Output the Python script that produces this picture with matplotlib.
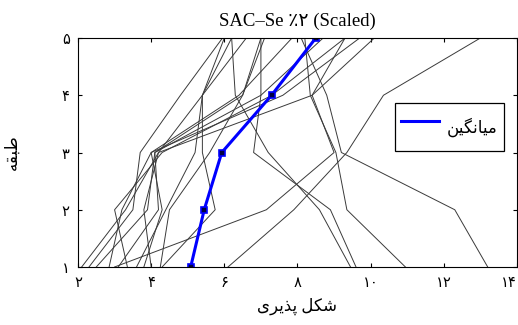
import matplotlib
matplotlib.use("Agg")
from matplotlib import pyplot as plt
from matplotlib.lines import Line2D
import numpy as np

# storey levels and ductility demand of each record
levels = [1, 2, 3, 4, 5]
records = [
    [2.1, 3.3, 4.2, 5.4, 6.6],
    [2.3, 3.5, 3.7, 4.8, 5.95],
    [2.5, 3.9, 4.1, 6.5, 7.0],
    [2.85, 3.2, 4.0, 6.4, 7.85],
    [3.1, 4.2, 4.1, 7.0, 8.7],
    [3.35, 3.0, 4.3, 7.3, 9.3],
    [3.6, 4.4, 5.2, 5.4, 6.2],
    [3.8, 4.3, 4.0, 7.6, 9.7],
    [4.0, 3.8, 4.2, 8.4, 10.1],
    [4.25, 4.5, 5.6, 6.5, 7.1],
    [4.3, 5.75, 5.4, 5.4, 6.0],
    [6.1, 7.9, 9.35, 10.35, 13.0],
    [9.45, 8.6, 7.2, 6.3, 6.2],
    [9.6, 8.9, 6.8, 7.0, 7.0],
    [10.95, 9.35, 9.05, 8.35, 8.2],
    [13.2, 12.3, 9.2, 8.8, 8.1],
    [3.0, 7.15, 9.0, 8.4, 9.3],
]
mean = [5.08, 5.45, 5.93, 7.29, 8.50]

xticks = [2, 4, 6, 8, 10, 12, 14]
xtick_labels = ["\u06f2", "\u06f4", "\u06f6", "\u06f8", "\u06f1\u06f0", "\u06f1\u06f2", "\u06f1\u06f4"]
ytick_labels = ["\u06f1", "\u06f2", "\u06f3", "\u06f4", "\u06f5"]

# Persian text written in presentation forms, visual order (no shaping in mpl)
title = "SAC\u2013Se \u066a\u06f2 (Scaled)"
xlabel = "\ufbfc\ufeae\ufbfe\ufeac\ufb58 \ufede\ufb91\ufeb7"      # شکل پذیری
ylabel = "\ufeea\ufed8\ufe92\ufec3"                              # طبقه
legend_label = "\ufee6\ufbff\ufb95\ufee7\ufe8e\ufbff\ufee3"      # میانگین

fams = ["Liberation Serif", "DejaVu Sans"]

fig = plt.figure(figsize=(5.18, 3.25), dpi=100)
ax = fig.add_axes([0.1506, 0.1785, 0.8474, 0.7045])

for r in records:
    ax.plot(r, levels, color="#3a3a3a", lw=0.7)
ax.plot(mean, levels, color="#0000ff", lw=2.2, marker="s", ms=5,
        mfc="#000040", mec="#0000ff", mew=1.2)

ax.set_xlim(2, 14)
ax.set_ylim(1, 5)
ax.set_xticks(xticks)
ax.set_xticklabels(xtick_labels, family=["DejaVu Sans"], fontsize=10.5)
ax.get_xticklabels()[-1].set_horizontalalignment("right")
ax.set_yticks(levels)
ax.set_yticklabels(ytick_labels, family=["DejaVu Sans"], fontsize=10.5)
ax.tick_params(direction="in", length=3, top=True, right=True, pad=6)
for s in ax.spines.values():
    s.set_linewidth(0.8)

ax.set_title(title, family=fams, fontsize=13.5, pad=9)
ax.set_xlabel(xlabel, family=fams, fontsize=12, labelpad=5)
ax.set_ylabel(ylabel, family=fams, fontsize=12, labelpad=30)

handle = Line2D([], [], color="#0000ff", lw=2.2)
leg = ax.legend([handle], [legend_label], loc="center right",
                bbox_to_anchor=(0.97, 0.61), fancybox=False, framealpha=1,
                edgecolor="black", prop={"family": fams, "size": 12},
                handlelength=2.3, handleheight=3.0, handletextpad=0.5,
                borderpad=0.35, borderaxespad=0)
leg.get_frame().set_linewidth(0.9)

plt.savefig("out.png", dpi=100)
